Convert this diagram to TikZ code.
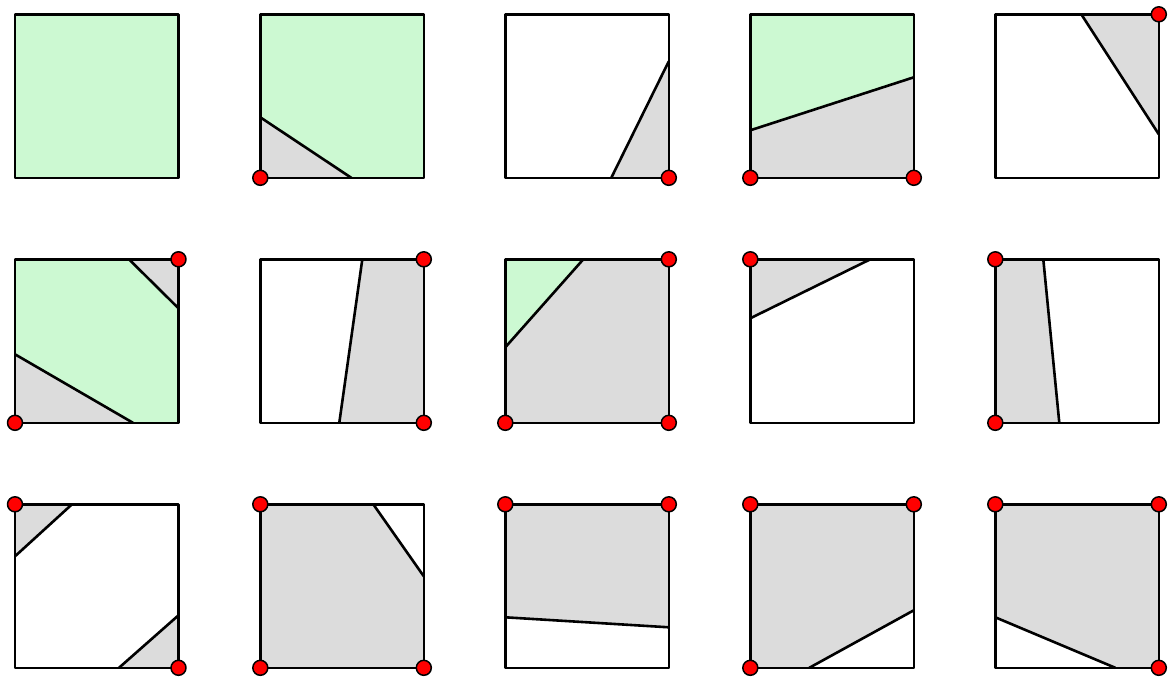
\documentclass[tikz,border=0pt]{standalone}
\begin{document}
\begin{tikzpicture}[x=1pt,y=-1pt,line join=round,
  edge/.style={line width=2.6pt},
  cell/.style={draw,line width=2.6pt},
  inside/.style={fill={rgb,255:red,204;green,249;blue,210}},
  hit/.style={fill={rgb,255:red,220;green,220;blue,220}},
  vtx/.style={circle,draw,fill=red,line width=1.5pt,inner sep=0pt,minimum size=15pt}]
\useasboundingbox (0,0) rectangle (1171,680);
\def\S{163.5}
% ---- row 1
\begin{scope}[shift={(15,14.3)}]
  \fill[inside] (0,0) rectangle (\S,\S);
  \draw[cell] (0,0) rectangle (\S,\S);
\end{scope}
\begin{scope}[shift={(260.3,14.3)}]
  \fill[inside] (0,0) rectangle (\S,\S);
  \fill[hit] (0,103) -- (0,\S) -- (91,\S) -- cycle;
  \draw[edge] (0,103) -- (91,\S);
  \draw[cell] (0,0) rectangle (\S,\S);
  \node[vtx] (a2) at (0,\S) {};
\end{scope}
\begin{scope}[shift={(505.3,14.3)}]
  \fill[hit] (106,\S) -- (\S,\S) -- (\S,47) -- cycle;
  \draw[edge] (106,\S) -- (\S,47);
  \draw[cell] (0,0) rectangle (\S,\S);
  \node[vtx] (a3) at (\S,\S) {};
\end{scope}
\begin{scope}[shift={(750.3,14.3)}]
  \fill[inside] (0,0) rectangle (\S,\S);
  \fill[hit] (0,116) -- (0,\S) -- (\S,\S) -- (\S,63) -- cycle;
  \draw[edge] (0,116) -- (\S,63);
  \draw[cell] (0,0) rectangle (\S,\S);
  \node[vtx] (a4l) at (0,\S) {};
  \node[vtx] (a4r) at (\S,\S) {};
\end{scope}
\begin{scope}[shift={(995.3,14.3)}]
  \fill[hit] (86,0) -- (\S,0) -- (\S,120) -- cycle;
  \draw[edge] (86,0) -- (\S,120);
  \draw[cell] (0,0) rectangle (\S,\S);
  \node[vtx] (a5) at (\S,0) {};
\end{scope}
% ---- row 2
\begin{scope}[shift={(15,259.3)}]
  \fill[inside] (0,0) rectangle (\S,\S);
  \fill[hit] (114,0) -- (\S,0) -- (\S,49) -- cycle;
  \fill[hit] (0,95) -- (0,\S) -- (118,\S) -- cycle;
  \draw[edge] (114,0) -- (\S,49);
  \draw[edge] (0,95) -- (118,\S);
  \draw[cell] (0,0) rectangle (\S,\S);
  \node[vtx] (b1t) at (\S,0) {};
  \node[vtx] (b1b) at (0,\S) {};
\end{scope}
\begin{scope}[shift={(260.3,259.3)}]
  \fill[hit] (102,0) -- (\S,0) -- (\S,\S) -- (79,\S) -- cycle;
  \draw[edge] (102,0) -- (79,\S);
  \draw[cell] (0,0) rectangle (\S,\S);
  \node[vtx] (b2t) at (\S,0) {};
  \node[vtx] (b2b) at (\S,\S) {};
\end{scope}
\begin{scope}[shift={(505.3,259.3)}]
  \fill[hit] (0,0) rectangle (\S,\S);
  \fill[inside] (0,0) -- (78,0) -- (0,88) -- cycle;
  \draw[edge] (78,0) -- (0,88);
  \draw[cell] (0,0) rectangle (\S,\S);
  \node[vtx] (b3t) at (\S,0) {};
  \node[vtx] (b3r) at (\S,\S) {};
  \node[vtx] (b3l) at (0,\S) {};
\end{scope}
\begin{scope}[shift={(750.3,259.3)}]
  \fill[hit] (0,0) -- (120,0) -- (0,59) -- cycle;
  \draw[edge] (120,0) -- (0,59);
  \draw[cell] (0,0) rectangle (\S,\S);
  \node[vtx] (b4) at (0,0) {};
\end{scope}
\begin{scope}[shift={(995.3,259.3)}]
  \fill[hit] (0,0) -- (48,0) -- (64,\S) -- (0,\S) -- cycle;
  \draw[edge] (48,0) -- (64,\S);
  \draw[cell] (0,0) rectangle (\S,\S);
  \node[vtx] (b5t) at (0,0) {};
  \node[vtx] (b5b) at (0,\S) {};
\end{scope}
% ---- row 3
\begin{scope}[shift={(15,504.3)}]
  \fill[hit] (0,0) -- (57,0) -- (0,52) -- cycle;
  \fill[hit] (104,\S) -- (\S,\S) -- (\S,111) -- cycle;
  \draw[edge] (57,0) -- (0,52);
  \draw[edge] (104,\S) -- (\S,111);
  \draw[cell] (0,0) rectangle (\S,\S);
  \node[vtx] (c1t) at (0,0) {};
  \node[vtx] (c1b) at (\S,\S) {};
\end{scope}
\begin{scope}[shift={(260.3,504.3)}]
  \fill[hit] (0,0) -- (113,0) -- (\S,72) -- (\S,\S) -- (0,\S) -- cycle;
  \draw[edge] (113,0) -- (\S,72);
  \draw[cell] (0,0) rectangle (\S,\S);
  \node[vtx] (c2t) at (0,0) {};
  \node[vtx] (c2l) at (0,\S) {};
  \node[vtx] (c2r) at (\S,\S) {};
\end{scope}
\begin{scope}[shift={(505.3,504.3)}]
  \fill[hit] (0,0) -- (\S,0) -- (\S,123) -- (0,113) -- cycle;
  \draw[edge] (0,113) -- (\S,123);
  \draw[cell] (0,0) rectangle (\S,\S);
  \node[vtx] (c3l) at (0,0) {};
  \node[vtx] (c3r) at (\S,0) {};
\end{scope}
\begin{scope}[shift={(750.3,504.3)}]
  \fill[hit] (0,0) -- (\S,0) -- (\S,106) -- (59,\S) -- (0,\S) -- cycle;
  \draw[edge] (59,\S) -- (\S,106);
  \draw[cell] (0,0) rectangle (\S,\S);
  \node[vtx] (c4l) at (0,0) {};
  \node[vtx] (c4r) at (\S,0) {};
  \node[vtx] (c4b) at (0,\S) {};
\end{scope}
\begin{scope}[shift={(995.3,504.3)}]
  \fill[hit] (0,0) -- (\S,0) -- (\S,\S) -- (120,\S) -- (0,113) -- cycle;
  \draw[edge] (0,113) -- (120,\S);
  \draw[cell] (0,0) rectangle (\S,\S);
  \node[vtx] (c5l) at (0,0) {};
  \node[vtx] (c5r) at (\S,0) {};
  \node[vtx] (c5b) at (\S,\S) {};
\end{scope}
\end{tikzpicture}
\end{document}
